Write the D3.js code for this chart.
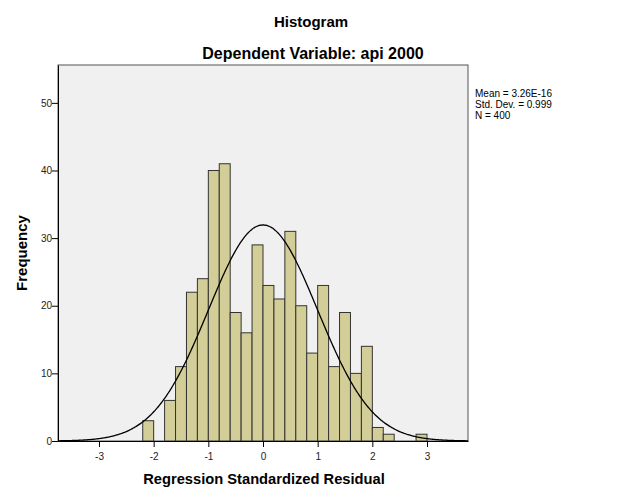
<!DOCTYPE html>
<html><head><meta charset="utf-8">
<script src="https://cdn.jsdelivr.net/npm/d3@7"></script>
<style>body{margin:0;background:#fff;} svg{display:block;font-family:"Liberation Sans",Arial,sans-serif;}</style>
</head><body>
<svg id="c" width="625" height="500"></svg>
<script>
// Bin left edges (width 0.2) and frequencies
const binStart = [-2.2,-2.0,-1.8,-1.6,-1.4,-1.2,-1.0,-0.8,-0.6,-0.4,-0.2,0.0,0.2,0.4,0.6,0.8,1.0,1.2,1.4,1.6,1.8,2.0,2.2,2.4,2.6,2.8];
const counts   = [3,0,6,11,22,24,40,41,19,16,29,23,21,31,20,13,23,11,19,10,14,2,1,0,0,1];
const binWidth = 0.2;
const xTicks = [-3,-2,-1,0,1,2,3];
const yTicks = [0,10,20,30,40,50];
const stats = {mean: 3.26e-16, sd: 0.999, n: 400};
const legendLines = ["Mean = 3.26E-16","Std. Dev. = 0.999","N = 400"];

const svg = d3.select("#c");
const L=58, R=468, T=65, B=441;
const x = d3.scaleLinear().domain([-3.75,3.75]).range([L,R]);
const y = d3.scaleLinear().domain([0,55.6]).range([B,T]);

svg.append("rect").attr("x",L).attr("y",T).attr("width",R-L).attr("height",B-T)
  .attr("fill","#f0f0f0").attr("stroke","#555").attr("stroke-width",1);

const data = binStart.map((s,i)=>({s, c:counts[i]})).filter(d=>d.c>0);
svg.append("g").selectAll("rect").data(data).join("rect")
  .attr("x",d=>x(d.s)).attr("width",d=>x(d.s+binWidth)-x(d.s))
  .attr("y",d=>y(d.c)).attr("height",d=>y(0)-y(d.c))
  .attr("fill","#d3ce97").attr("stroke","#333").attr("stroke-width",1);

// normal curve from stated mean/sd
const pts = d3.range(-3.75,3.7501,0.02).map(v=>[v, stats.n*binWidth/(stats.sd*Math.sqrt(2*Math.PI))*Math.exp(-0.5*((v-stats.mean)/stats.sd)**2)]);
svg.append("path").datum(pts)
  .attr("d",d3.line().x(d=>x(d[0])).y(d=>y(d[1])).curve(d3.curveBasis))
  .attr("fill","none").attr("stroke","#000").attr("stroke-width",1.3);

// axes
const fmt = d => String(d);
const xa = svg.append("g").attr("transform",`translate(0,${B})`)
  .call(d3.axisBottom(x).tickValues(xTicks).tickSize(6).tickSizeOuter(0).tickFormat(fmt));
xa.select(".domain").attr("stroke","#000");
xa.selectAll("text").attr("font-size","10px").attr("fill","#222").attr("dy","1.0em").attr("font-family","Liberation Sans, Arial, sans-serif");
const ya = svg.append("g").attr("transform",`translate(${L},0)`)
  .call(d3.axisLeft(y).tickValues(yTicks).tickSize(6).tickSizeOuter(0).tickFormat(fmt));
ya.select(".domain").attr("stroke","#000");
ya.selectAll("text").attr("font-size","10px").attr("fill","#222").attr("x",-6).attr("font-family","Liberation Sans, Arial, sans-serif");

// titles
svg.append("text").attr("x",311).attr("y",27).attr("text-anchor","middle")
  .attr("font-size","15px").attr("font-weight","bold").text("Histogram");
svg.append("text").attr("x",313).attr("y",59).attr("text-anchor","middle")
  .attr("font-size","16px").attr("font-weight","bold").text("Dependent Variable: api 2000");
svg.append("text").attr("x",264).attr("y",484).attr("text-anchor","middle")
  .attr("font-size","14.7px").attr("font-weight","bold").text("Regression Standardized Residual");
svg.append("text").attr("transform","translate(27,253) rotate(-90)").attr("text-anchor","middle")
  .attr("font-size","15px").attr("font-weight","bold").text("Frequency");

svg.append("g").selectAll("text").data(legendLines).join("text")
  .attr("x",475).attr("y",(d,i)=>97+i*11).attr("font-size","10px").text(d=>d);
</script>
</body></html>
